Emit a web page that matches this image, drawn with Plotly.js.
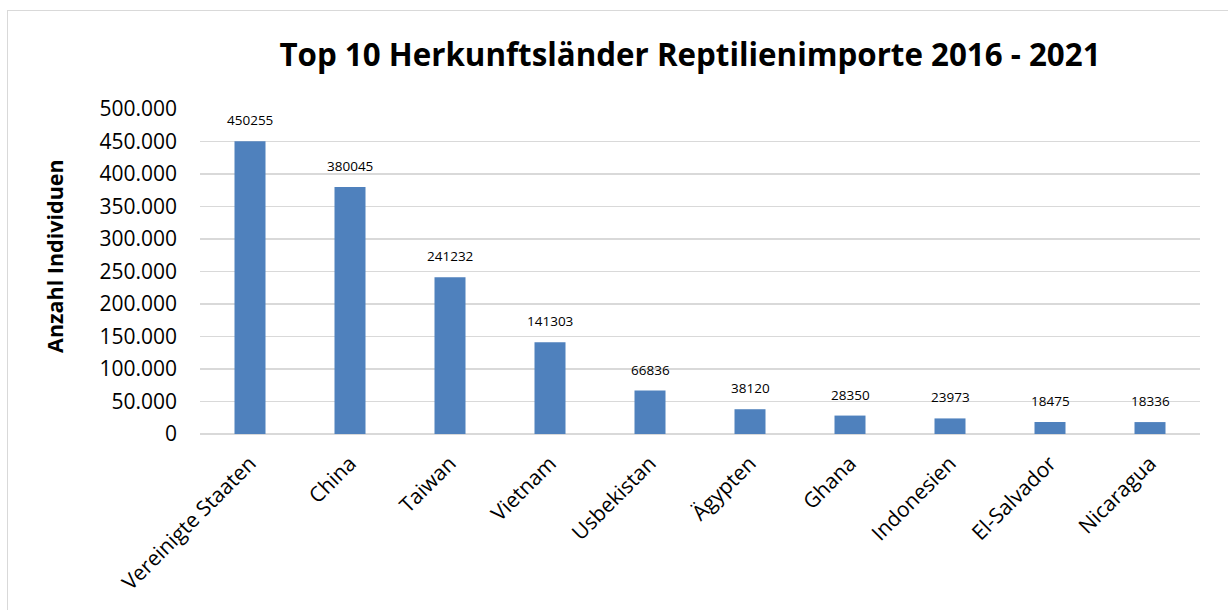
<!DOCTYPE html>
<html><head><meta charset="utf-8">
<script src="https://cdn.plot.ly/plotly-3.0.1.min.js"></script>
<style>
html,body{margin:0;padding:0;background:#fff;overflow:hidden;}
#wrap{position:relative;width:1228px;height:610px;}
#chart{position:absolute;left:0;top:0;width:1228px;height:610px;}
#frame{position:absolute;left:7px;top:10px;width:1300px;height:700px;border:1.5px solid #d9d9d9;pointer-events:none;}
</style></head>
<body><div id="wrap"><div id="chart"></div><div id="frame"></div></div>
<script>
const categories = ["Vereinigte Staaten","China","Taiwan","Vietnam","Usbekistan","Ägypten","Ghana","Indonesien","El-Salvador","Nicaragua"];
const values = [450255,380045,241232,141303,66836,38120,28350,23973,18475,18336];
const yTickVals = [0,50000,100000,150000,200000,250000,300000,350000,400000,450000,500000];

const font = "Open Sans, sans-serif";
const trace = {
  type: "bar",
  x: categories,
  y: values,
  marker: {color: "#4F81BD"},
  hoverinfo: "x+y"
};
const labels = categories.map((c, i) => ({
  x: c, y: values[i], xref: "x", yref: "y",
  text: String(values[i]),
  showarrow: false, yanchor: "bottom", yshift: 10,
  font: {family: font, size: 13.5, color: "#000"}
}));
labels.push({
  text: "<b>Anzahl Individuen</b>", textangle: -90,
  xref: "paper", yref: "paper", x: -0.145, y: 0.548,
  xanchor: "center", yanchor: "middle", showarrow: false,
  font: {family: font, size: 21.5, color: "#000"}
});
const layout = {
  width: 1228, height: 610,
  margin: {l: 200, r: 28, t: 109, b: 175.5},
  paper_bgcolor: "rgba(0,0,0,0)",
  plot_bgcolor: "rgba(0,0,0,0)",
  separators: ",.",
  bargap: 0.69,
  showlegend: false,
  annotations: labels,
  title: {
    text: "<b>Top 10 Herkunftsländer Reptilienimporte 2016 - 2021</b>",
    font: {family: font, size: 31.3, color: "#000"},
    x: 0.49, xref: "paper", xanchor: "center",
    y: 1 - 55/610, yanchor: "middle"
  },
  xaxis: {
    type: "category",
    tickangle: -45,
    tickfont: {family: font, size: 21, color: "#000"},
    showgrid: false, showline: false, ticks: "",
    ticklabelstandoff: 12,
    automargin: false
  },
  yaxis: {
    range: [0, 500000],
    tickvals: yTickVals,
    tickformat: ",d",
    tickfont: {family: font, size: 21, color: "#000"},
    showgrid: true, gridcolor: "#d9d9d9", gridwidth: 1.5,
    zeroline: true, zerolinecolor: "#d9d9d9", zerolinewidth: 1.5,
    showline: false, ticks: "",
    ticklabelstandoff: 22,
    automargin: false
  }
};
Plotly.newPlot("chart", [trace], layout, {displayModeBar: false, staticPlot: true});
</script></body></html>
